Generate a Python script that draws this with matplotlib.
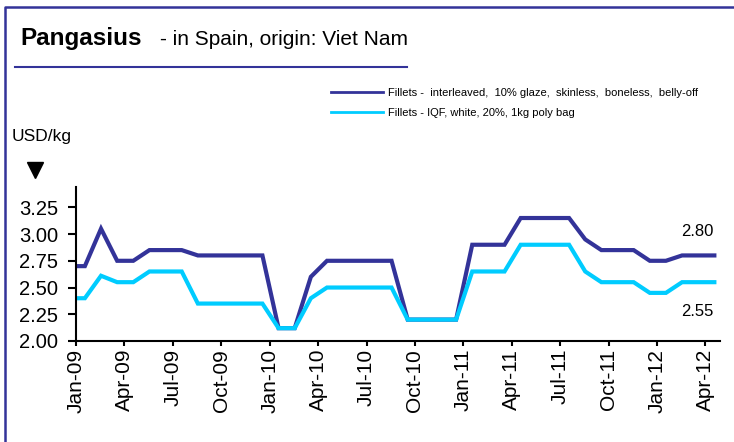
import numpy as np
import matplotlib
matplotlib.use("Agg")
import matplotlib.pyplot as plt
from matplotlib.lines import Line2D

plt.rcParams['font.family'] = ['Liberation Sans', 'DejaVu Sans']

# monthly observations, Jan-09 .. Apr-12 (plus the value at the axis start)
months = np.arange(40)
fillets_interleaved = [2.70,
                       2.70, 3.05, 2.75, 2.75, 2.85, 2.85, 2.85, 2.80, 2.80, 2.80, 2.80, 2.80,
                       2.12, 2.12, 2.60, 2.75, 2.75, 2.75, 2.75, 2.75, 2.20, 2.20, 2.20, 2.20,
                       2.90, 2.90, 2.90, 3.15, 3.15, 3.15, 3.15, 2.95, 2.85, 2.85, 2.85, 2.75,
                       2.75, 2.80, 2.80, 2.80]
fillets_iqf = [2.40,
               2.40, 2.61, 2.55, 2.55, 2.65, 2.65, 2.65, 2.35, 2.35, 2.35, 2.35, 2.35,
               2.12, 2.12, 2.40, 2.50, 2.50, 2.50, 2.50, 2.50, 2.20, 2.20, 2.20, 2.20,
               2.65, 2.65, 2.65, 2.90, 2.90, 2.90, 2.90, 2.65, 2.55, 2.55, 2.55, 2.45,
               2.45, 2.55, 2.55, 2.55]
tick_labels = ["Jan-09", "Apr-09", "Jul-09", "Oct-09",
               "Jan-10", "Apr-10", "Jul-10", "Oct-10",
               "Jan-11", "Apr-11", "Jul-11", "Oct-11",
               "Jan-12", "Apr-12"]
label_dark = "Fillets -  interleaved,  10% glaze,  skinless,  boneless,  belly-off"
label_light = "Fillets - IQF, white, 20%, 1kg poly bag"

DARK = '#333399'
LIGHT = '#00CCFF'

xpos = np.concatenate([[0], months + 0.55])

fig = plt.figure(figsize=(7.34, 4.42), dpi=100)
W, H = 734, 442
ax = fig.add_axes([76 / W, 1 - 341 / H, (720 - 76) / W, (341 - 187) / H])

ax.plot(xpos, fillets_interleaved, color=DARK, lw=3, label=label_dark, solid_joinstyle='miter')
ax.plot(xpos, fillets_iqf, color=LIGHT, lw=3, label=label_light, solid_joinstyle='miter')

ax.set_xlim(0, 39.9)
ax.set_ylim(2.0, 3.44)
ax.set_xticks(np.arange(len(tick_labels)) * 3)
ax.set_xticklabels(tick_labels, rotation=90, fontsize=15)
ax.set_yticks([2.0, 2.25, 2.5, 2.75, 3.0, 3.25])
ax.set_yticklabels(['%.2f' % v for v in ax.get_yticks()], fontsize=14.5)
ax.tick_params(axis='y', direction='out', length=5.5, width=1.5, pad=7.5)
ax.tick_params(axis='x', direction='out', length=3.6, width=1.5, pad=2)
for s in ['top', 'right']:
    ax.spines[s].set_visible(False)
for s in ['left', 'bottom']:
    ax.spines[s].set_linewidth(1.5)

ax.text(39.5, 3.02, '%.2f' % fillets_interleaved[-1], ha='right', va='center', fontsize=12)
ax.text(39.5, 2.28, '%.2f' % fillets_iqf[-1], ha='right', va='center', fontsize=12)

leg = ax.legend(loc='upper left', bbox_to_anchor=(331 / W, 1 - 88 / H),
                bbox_transform=fig.transFigure, frameon=False, fontsize=8,
                handlelength=4.7, handletextpad=0.45, labelspacing=0.9,
                borderaxespad=0, borderpad=0)
for h in leg.get_lines():
    h.set_linewidth(2)

# title
fig.text(20 / W, 1 - 45 / H, 'Pangasius', fontsize=17.5, fontweight='bold', va='baseline')
fig.text(160 / W, 1 - 45 / H, '- in Spain, origin: Viet Nam', fontsize=15, va='baseline')
fig.add_artist(Line2D([15 / W, 407 / W], [1 - 66.7 / H, 1 - 66.7 / H], color=DARK, lw=1.5,
                      transform=fig.transFigure))

# unit label
fig.text(12 / W, 1 - 141 / H, 'USD/kg', fontsize=12.5, va='baseline')
fig.add_artist(Line2D([35 / W], [1 - 170 / H], marker='v', markersize=12, color='black',
                      linestyle='none', transform=fig.transFigure))

# frame
fig.add_artist(Line2D([4.5 / W, 4.5 / W, 1], [0, 1 - 6.5 / H, 1 - 6.5 / H], color=DARK, lw=1.8,
                      transform=fig.transFigure))

fig.savefig('out.png', dpi=100)
